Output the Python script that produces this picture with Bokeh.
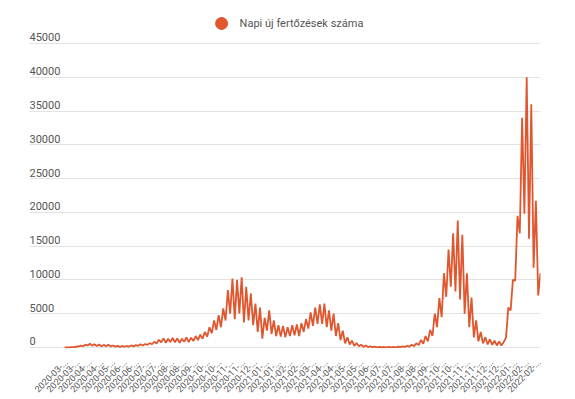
import math
import numpy as np
from bokeh.plotting import figure
from bokeh.models import FixedTicker, Legend, LegendItem, Range1d
from bokeh.embed import file_html
from bokeh.resources import INLINE
from bokeh.core.properties import value

# Daily new infections, sampled twice per week (weekly low, weekly high), from 2020-03-02
lows = [2, 15, 50, 150, 200, 300, 250, 230, 190, 200,
        150, 130, 100, 110, 140, 170, 250, 300, 380, 480,
        600, 750, 700, 800, 780, 700, 850, 800, 950, 1100,
        1300, 1600, 2100, 2600, 3000, 4000, 5000, 4200, 5000, 3700,
        4000, 3300, 2300, 1300, 2500, 2000, 1700, 1600, 1500, 1700,
        1800, 1700, 2300, 2800, 3200, 3500, 3500, 3000, 2500, 1700,
        1100, 600, 450, 250, 180, 100, 60, 40, 30, 20,
        15, 20, 30, 50, 80, 120, 200, 350, 550, 900,
        1700, 3000, 4500, 7500, 9000, 8300, 7100, 5000, 3000, 1500,
        900, 600, 450, 400, 300, 300, 1500, 5500, 9900, 16900,
        19800, 16100, 11800, 7700]
highs = [5, 40, 110, 280, 420, 560, 480, 450, 380, 400,
         300, 230, 200, 220, 300, 350, 480, 520, 650, 850,
         1150, 1350, 1300, 1400, 1350, 1300, 1500, 1450, 1700, 1900,
         2300, 3000, 4000, 4800, 5800, 8500, 10200, 10000, 10400, 9000,
         8000, 6500, 5900, 4400, 5500, 4000, 3300, 3200, 3000, 3300,
         3400, 3600, 4200, 5200, 5900, 6400, 6500, 5500, 5000, 3600,
         2500, 1500, 1000, 650, 400, 300, 180, 110, 80, 70,
         80, 90, 110, 160, 260, 400, 620, 1100, 1700, 2600,
         5000, 7300, 11000, 14500, 16900, 18800, 16700, 11000, 7400, 4000,
         2300, 1500, 1200, 1000, 900, 800, 5900, 10000, 19500, 34000,
         40000, 36000, 21700, 11000]

tick_labels = ["2020-03-...", "2020-03-...", "2020-04-...", "2020-04-...", "2020-05-...",
               "2020-06-...", "2020-06-...", "2020-07-...", "2020-07-...", "2020-08-...",
               "2020-08-...", "2020-09-...", "2020-10-...", "2020-10-...", "2020-11-...",
               "2020-11-...", "2020-12-...", "2021-01-...", "2021-01-...", "2021-02-...",
               "2021-02-...", "2021-03-...", "2021-04-...", "2021-04-...", "2021-05-...",
               "2021-05-...", "2021-06-...", "2021-07-...", "2021-07-...", "2021-08-...",
               "2021-08-...", "2021-09-...", "2021-10-...", "2021-10-...", "2021-11-...",
               "2021-11-...", "2021-12-...", "2021-12-...", "2022-01-...", "2022-02-...",
               "2022-02-..."]
tick_step_days = 18
tick_first_day = 2

y_ticks = [0, 5000, 10000, 15000, 20000, 25000, 30000, 35000, 40000, 45000]
y_labels = ["0", "5000", "10000", "15000", "20000", "25000", "30000", "35000", "40000", "45000"]

series_name = "Napi új fertőzések száma"
color = "#e0562f"
font = "Roboto"

cases = []
for lo, hi in zip(lows, highs):
    cases += [lo, hi]
days = np.arange(len(cases)) * 3.5
tick_days = [tick_first_day + tick_step_days * i for i in range(len(tick_labels))]

x_end = float(days[-1])
x_start = -53.5

p = figure(frame_width=511, frame_height=340, output_backend="svg", toolbar_location=None,
           x_range=Range1d(x_start, x_end), y_range=Range1d(-150, 50180),
           min_border_left=29, min_border_right=27, min_border_top=8, min_border_bottom=30)
p.outline_line_color = None
p.background_fill_color = "white"
p.border_fill_color = "white"

p.xgrid.visible = False
p.ygrid.ticker = FixedTicker(ticks=y_ticks)
p.ygrid.grid_line_color = "#e2e2e2"
p.ygrid.grid_line_width = 1

p.yaxis.visible = False

ax = p.xaxis[0]
ax.ticker = FixedTicker(ticks=tick_days)
ax.major_label_overrides = {d: lab for d, lab in zip(tick_days, tick_labels)}
ax.major_label_orientation = math.pi / 4
ax.axis_line_color = None
ax.major_tick_line_color = None
ax.minor_tick_line_color = None
ax.major_label_text_font = font
ax.major_label_text_font_size = "9px"
ax.major_label_text_color = "#555555"
ax.major_label_standoff = 6

p.text(x=[x_start] * len(y_ticks), y=y_ticks, text=y_labels,
       text_font=value(font), text_font_size="11px", text_color="#555555",
       text_baseline="bottom", text_align="left", y_offset=-2)

p.line(days, cases, line_color=color, line_width=1.8)
dot = p.scatter(x=[days[0]], y=[cases[0]], size=0, marker="circle",
                fill_color=color, line_color=color)

legend = Legend(items=[LegendItem(label=series_name, renderers=[dot])],
                orientation="horizontal", location="top_center",
                border_line_color=None, background_fill_alpha=0,
                glyph_width=30, glyph_height=30, label_standoff=4,
                label_text_font=font, label_text_font_size="11px",
                label_text_color="#555555", padding=0, margin=0, spacing=0)
p.add_layout(legend)

open("out.html", "w").write(file_html(p, INLINE))
